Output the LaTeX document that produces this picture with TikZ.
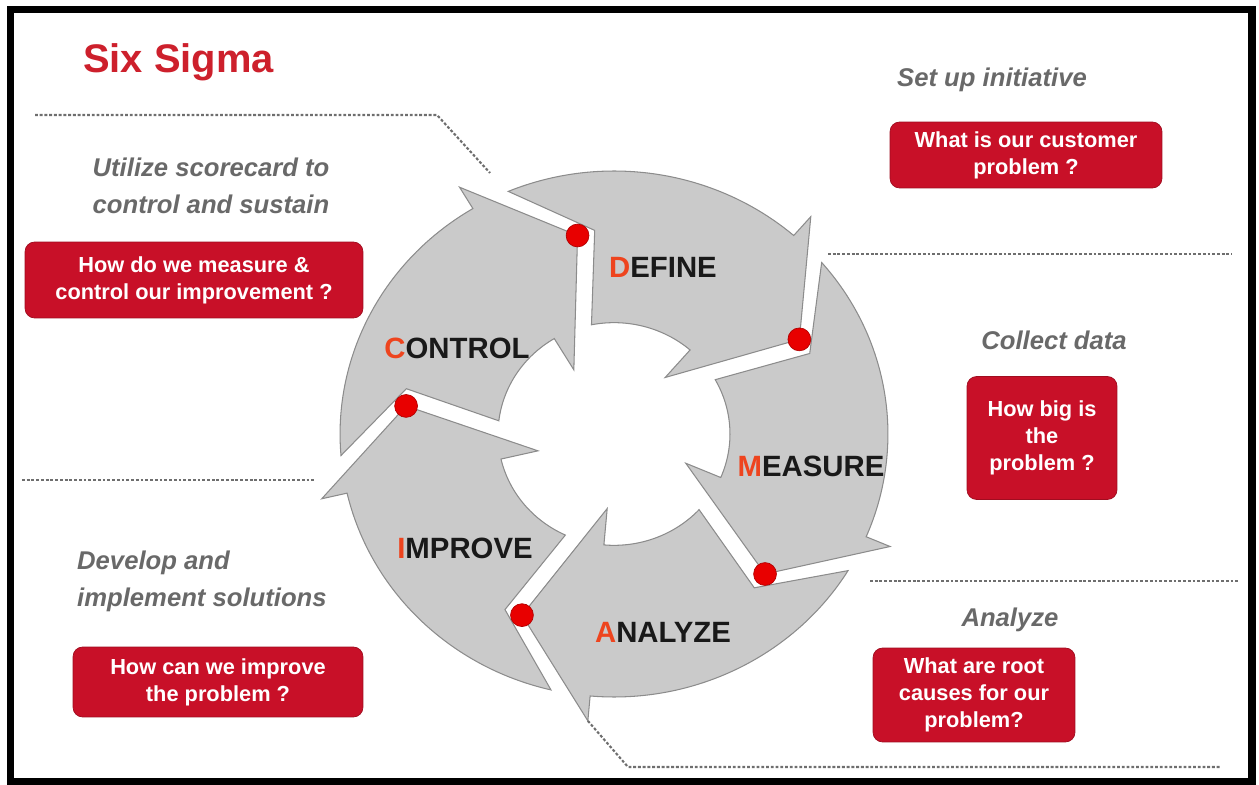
\documentclass[tikz,border=0pt]{standalone}
\usepackage{fontspec}
\setmainfont{Liberation Sans}

\definecolor{sixred}{RGB}{200,16,40}
\definecolor{titlered}{RGB}{205,32,44}
\definecolor{notegray}{RGB}{105,105,105}
\definecolor{linegray}{RGB}{110,110,110}
\definecolor{wheelgray}{RGB}{202,202,202}
\definecolor{edgegray}{RGB}{140,140,140}
\definecolor{dotred}{RGB}{232,0,0}
\definecolor{initred}{RGB}{238,68,30}

\newcommand{\firstletter}[1]{\textcolor{initred}{#1}}

\tikzset{
	qbox/.style={fill=sixred, draw=sixred!80!black, rounded corners=5.5pt,
		text=white, font=\fontsize{12.4}{15.3}\selectfont\bfseries, align=center, inner sep=0pt},
	note/.style={text=notegray, font=\fontsize{14.6}{21}\selectfont\bfseries\itshape, align=center},
	phaselabel/.style={text=black!90, font=\fontsize{16.7}{20}\selectfont\bfseries},
	sep/.style={draw=linegray, line width=1.2pt, dash pattern=on 1.6pt off 1.1pt},
	reddot/.style={circle, fill=dotred, draw=red!70!black, line width=0.4pt,
		minimum size=13pt, inner sep=0pt},
	wheelpart/.style={fill=wheelgray, draw=edgegray, line width=0.6pt}
}

\begin{document}
\begin{tikzpicture}[x=0.02cm,y=0.02cm]
	\useasboundingbox (0,0) rectangle (1259,785);
%	\draw[help lines,step=50] (0,0) grid (1259,785);
	\draw[line width=4pt] (10.5,3.5) rectangle (1252,775.5);

	\path (77,712) coordinate (titlepos);
	\path (211,599) coordinate (ctrlnote);
	\path (992,705) coordinate (defnote);
	\path (1054,445) coordinate (measnote);
	\path (71,204) coordinate (impnote);
	\path (1010,165) coordinate (ananote);
	\path (194,505) coordinate (ctrlq);
	\path (1026,630) coordinate (defq);
	\path (1042,347) coordinate (measq);
	\path (974,90) coordinate (anaq);
	\path (218,103) coordinate (impq);
	\path (663,518) coordinate (defpos);
	\path (811,319) coordinate (measpos);
	\path (663,153) coordinate (anapos);
	\path (465,237) coordinate (imppos);
	\path (457,437) coordinate (ctrlpos);
	\path (35,670) coordinate (sepA);
	\path (437,670) coordinate (sepAbend);
	\path (490,612) coordinate (sepAend);
	\path (828,531) coordinate (sepB);
	\path (1232,531) coordinate (sepBend);
	\path (22,305) coordinate (sepC);
	\path (315,305) coordinate (sepCend);
	\path (870,204) coordinate (sepD);
	\path (1240,204) coordinate (sepDend);
	\path (628,18) coordinate (sepEbend);
	\path (1220,18) coordinate (sepEend);

	% the wheel of five arrows
	\begin{scope}[shift={(614,351)}, yscale=0.96]
		\foreach \a in {100,28,-44,-116,-188} {
			\pgfmathsetmacro{\b}{\a-72}
			\filldraw[wheelpart]
				({\a+12.7}:5.48cm) arc[start angle=\a+12.7, end angle=\b+21, radius=5.48cm]
				-- ({\b+21}:6cm) -- (\b:4.2cm) -- ({\b+21}:1.56cm) -- ({\b+21}:2.32cm)
				arc[start angle=\b+21, end angle=\a+1.2, radius=2.32cm]
				-- ({\a-4.8}:4.26cm) -- cycle;
		}
		\coordinate (anabarb) at (-95:6cm);
		\foreach \a/\n in {100/D,28/M,-44/A,-116/I,-188/C}
			\node[reddot] (dot\n) at (\a:4.2cm) {};
	\end{scope}

	\draw (titlepos) node[anchor=base west, text=titlered,
		font=\fontsize{22.7}{27}\selectfont\bfseries] (title) {Six Sigma};

	\draw (defpos) node[phaselabel] (define) {\firstletter{D}EFINE};
	\draw (measpos) node[phaselabel] (measure) {\firstletter{M}EASURE};
	\draw (anapos) node[phaselabel] (analyze) {\firstletter{A}NALYZE};
	\draw (imppos) node[phaselabel] (improve) {\firstletter{I}MPROVE};
	\draw (ctrlpos) node[phaselabel] (control) {\firstletter{C}ONTROL};

	\draw (ctrlnote) node[note] (ctrltext) {Utilize scorecard to\\control and sustain};
	\draw (defnote) node[note] (deftext) {Set up initiative};
	\draw (measnote) node[note] (meastext) {Collect data};
	\draw (impnote) node[note, anchor=west, align=left] (imptext) {Develop and\\implement solutions};
	\draw (ananote) node[note] (anatext) {Analyze};

	\draw (ctrlq) node[qbox, minimum width=6.76cm, minimum height=1.52cm] (ctrlbox)
		{How do we measure \&\\control our improvement ?};
	\draw (defq) node[qbox, minimum width=5.44cm, minimum height=1.32cm] (defbox)
		{What is our customer\\problem ?};
	\draw (measq) node[qbox, minimum width=3cm, minimum height=2.46cm] (measbox)
		{How big is\\the\\problem ?};
	\draw (anaq) node[qbox, minimum width=4.04cm, minimum height=1.88cm] (anabox)
		{What are root\\causes for our\\problem?};
	\draw (impq) node[qbox, minimum width=5.8cm, minimum height=1.4cm] (impbox)
		{How can we improve\\the problem ?};

	\draw[sep] (sepA) -- (sepAbend) -- (sepAend);
	\draw[sep] (sepB) -- (sepBend);
	\draw[sep] (sepC) -- (sepCend);
	\draw[sep] (sepD) -- (sepDend);
	\draw[sep] (anabarb) -- (sepEbend) -- (sepEend);
\end{tikzpicture}
\end{document}
